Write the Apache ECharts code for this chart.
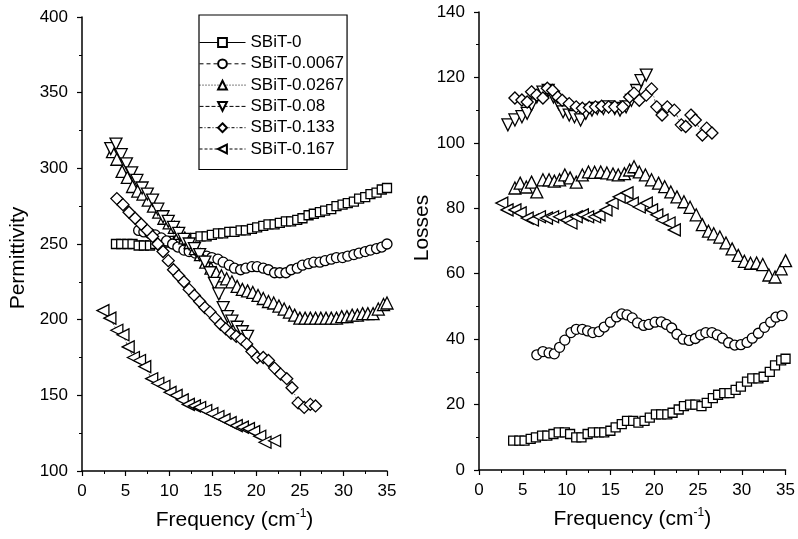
<!DOCTYPE html>
<html>
<head>
<meta charset="utf-8">
<script src="https://cdn.jsdelivr.net/npm/echarts@6/dist/echarts.min.js"></script>
<style>
  html, body { margin: 0; padding: 0; background: #fff; }
  #chart { width: 798px; height: 539px; }
</style>
</head>
<body>
<div id="chart"></div>
<script>
// series names (legend order)
const seriesNames = ['SBiT-0', 'SBiT-0.0067', 'SBiT-0.0267', 'SBiT-0.08', 'SBiT-0.133', 'SBiT-0.167']

// tick values
const freqTicks = [0, 5, 10, 15, 20, 25, 30, 35]
const permTicks = [100, 150, 200, 250, 300, 350, 400]
const lossTicks = [0, 20, 40, 60, 80, 100, 120, 140]

// permittivity vs frequency, [freq, value]
const permS0 = [[3.9,250],[4.5,250],[5.2,250],[5.8,250],[6.5,249],[7.1,249],[7.8,249],[8.4,250],[9.1,251],[9.7,251],[10.4,252],[11.0,252],[11.7,253],[12.3,253],[13.0,254],[13.6,255],[14.3,255],[14.9,256],[15.6,257],[16.2,257],[16.9,258],[17.5,258],[18.2,259],[18.8,259],[19.5,260],[20.1,261],[20.8,262],[21.4,263],[22.1,263],[22.7,264],[23.4,265],[24.0,265],[24.7,266],[25.3,267],[26.0,269],[26.6,270],[27.3,271],[27.9,272],[28.6,273],[29.2,275],[29.9,276],[30.5,277],[31.2,278],[31.8,280],[32.5,281],[33.1,283],[33.8,284],[34.4,286],[35.0,287]]
const permS0067 = [[6.5,259],[7.1,258],[7.8,257],[8.4,256],[9.1,254],[9.7,252],[10.4,250],[11.0,248],[11.7,246],[12.3,245],[13.0,244],[13.6,243],[14.3,242],[14.9,241],[15.6,240],[16.2,238],[16.9,236],[17.5,234],[18.2,233],[18.8,234],[19.5,235],[20.1,235],[20.8,234],[21.4,233],[22.1,231],[22.7,231],[23.4,231],[24.0,233],[24.7,234],[25.3,236],[26.0,237],[26.6,238],[27.3,238],[27.9,239],[28.6,240],[29.2,241],[29.9,241],[30.5,242],[31.2,243],[31.8,244],[32.5,245],[33.1,246],[33.8,247],[34.4,248],[35.0,250]]
const permS0267 = [[3.5,311],[4.0,306],[4.6,298],[5.2,294],[5.8,288],[6.4,285],[7.0,283],[7.6,279],[8.2,275],[8.8,271],[9.4,267],[10.0,264],[10.6,261],[11.2,257],[11.8,254],[12.4,251],[13.0,247],[13.6,243],[14.2,238],[14.8,234],[15.4,231],[16.0,229],[16.6,227],[17.2,225],[17.8,222],[18.4,220],[19.0,219],[19.6,218],[20.2,216],[20.8,214],[21.4,212],[22.0,211],[22.6,209],[23.2,207],[23.8,205],[24.4,203],[25.0,201],[25.6,201],[26.2,201],[26.8,201],[27.4,201],[28.0,201],[28.6,201],[29.2,201],[29.8,202],[30.4,202],[31.0,203],[31.6,203],[32.2,204],[32.8,204],[33.4,204],[34.0,207],[34.6,210],[35.0,211]]
const permS008 = [[3.3,313],[3.9,316],[4.5,309],[5.1,303],[5.7,297],[6.3,292],[6.9,287],[7.5,283],[8.1,279],[8.7,273],[9.3,268],[9.9,265],[10.5,261],[11.1,257],[11.7,253],[12.3,250],[12.9,247],[13.5,243],[14.1,238],[14.7,231],[15.2,224],[15.7,217],[16.2,208],[16.7,202],[17.2,199],[17.8,195],[18.4,192],[19.0,189]]
const permS0133 = [[4.0,280],[4.7,276],[5.4,271],[6.1,267],[6.8,263],[7.5,259],[8.1,255],[8.7,250],[9.3,245],[9.9,239],[10.5,233],[11.1,229],[11.7,225],[12.3,220],[12.9,216],[13.5,212],[14.1,208],[14.7,205],[15.3,201],[15.9,197],[16.5,194],[17.1,191],[17.7,189],[18.3,187],[18.9,184],[19.5,179],[20.1,175],[20.8,175],[21.4,173],[22.1,168],[22.8,164],[23.5,161],[24.1,155],[24.8,145],[25.5,142],[26.2,144],[26.8,143]]
const permS0167 = [[2.4,206],[3.2,201],[4.0,193],[4.7,190],[5.3,182],[5.9,175],[6.6,173],[7.2,169],[8.0,161],[8.7,158],[9.4,156],[10.1,152],[10.8,150],[11.5,147],[12.2,144],[12.9,143],[13.5,142],[14.2,140],[14.9,138],[15.6,136],[16.3,134],[17.0,132],[17.7,130],[18.4,129],[19.1,128],[19.7,126],[20.4,123],[21.0,119],[22.1,120]]

// losses vs frequency, [freq, value]
const lossS0 = [[3.9,9],[4.6,9],[5.2,9],[5.9,9.5],[6.5,10],[7.2,10.5],[7.8,10.5],[8.5,11],[9.1,11.5],[9.8,11.5],[10.4,11],[11.1,10],[11.7,10],[12.4,11],[13.0,11.5],[13.7,11.5],[14.3,11.5],[15.0,12],[15.6,13],[16.3,14],[16.9,15],[17.6,15],[18.2,14.5],[18.9,15],[19.5,16],[20.2,17],[20.8,17],[21.5,17],[22.1,17.5],[22.8,18.5],[23.4,19.5],[24.1,20],[24.7,20],[25.4,19.5],[26.0,20.5],[26.7,22],[27.3,23],[28.0,23.5],[28.6,23.5],[29.3,24.5],[29.9,25.5],[30.6,27],[31.2,28],[31.9,28],[32.5,28.5],[33.2,30],[33.8,32],[34.5,33.5],[35.0,34]]
const lossS0067 = [[6.6,35.2],[7.3,36.2],[8.0,35.8],[8.6,35.5],[9.2,37.5],[9.8,39.7],[10.5,42],[11.1,43],[11.8,43],[12.4,42.5],[13.0,42],[13.7,42.3],[14.3,43.7],[15.0,45.2],[15.7,46.8],[16.3,47.7],[16.9,47.4],[17.5,46.5],[18.1,45],[18.8,44.2],[19.4,44.5],[20.1,45.2],[20.8,45.3],[21.4,44.5],[22.0,43.4],[22.6,41.5],[23.3,40],[24.0,39.6],[24.7,40.2],[25.3,41.3],[25.9,42],[26.6,42],[27.2,41.3],[27.8,40.3],[28.5,38.9],[29.2,38.2],[29.9,38.3],[30.6,39],[31.2,40.3],[31.9,41.8],[32.6,43.6],[33.3,45.2],[33.9,46.7],[34.6,47.2]]
const lossS0267 = [[4.1,86.2],[4.7,87.7],[5.4,86.5],[6.0,88],[6.6,85],[7.3,88.7],[8.0,88.7],[8.6,88.3],[9.2,88.7],[9.8,90.2],[10.4,89.3],[11.1,88],[11.8,90.2],[12.5,91.1],[13.2,91],[13.9,91.1],[14.6,90.8],[15.3,90.5],[15.9,90.2],[16.6,90.6],[17.2,91.7],[17.7,92.7],[18.3,91.1],[19.0,90.2],[19.7,88.7],[20.5,87.7],[21.2,86.6],[21.9,85],[22.6,83.5],[23.4,82],[24.1,80.3],[24.8,78],[25.5,75],[26.2,73],[26.8,72.2],[27.5,71.2],[28.2,69.4],[28.9,67.6],[29.6,65.6],[30.3,63.8],[31.0,63.2],[31.7,63.3],[32.4,62.8],[33.1,59.6],[33.8,59],[34.5,61.5],[35.0,64]]
const lossS008 = [[3.3,105.5],[4.1,107],[4.9,108],[5.5,109],[6.0,111.6],[6.6,114],[7.3,115.5],[7.9,116],[8.5,114],[9.1,112],[9.6,109.5],[10.3,108.5],[10.9,108],[11.6,107],[12.2,109],[12.9,110],[13.5,110.5],[14.2,110.5],[14.8,111],[15.5,110.5],[16.1,110],[16.8,111],[17.4,113],[18.0,116],[18.5,119],[19.1,120.7]]
const lossS0133 = [[4.1,113.7],[4.9,113.1],[5.5,112.5],[6.0,115.6],[6.6,114.6],[7.3,113.7],[7.8,116.7],[8.4,116],[9.0,114],[9.5,113],[10.3,112],[11.1,111],[11.8,110.6],[12.6,110.8],[13.3,111],[14.0,111.2],[14.8,111],[15.5,111],[16.4,111],[17.2,114],[17.7,115.2],[18.3,113],[19.1,114.6],[19.7,116.5],[20.3,111],[20.9,108.5],[21.5,111],[22.3,110],[23.1,105.5],[23.6,105],[24.2,108.5],[24.7,107],[25.5,102.4],[26.0,104.5],[26.6,103]]
const lossS0167 = [[2.6,81.6],[3.2,79.5],[4.1,79.5],[4.7,78.6],[5.5,77],[6.1,76.4],[6.9,77.4],[7.7,77],[8.4,77.4],[9.2,77.4],[10.0,76.4],[10.5,75.5],[11.1,77.4],[11.8,78],[12.4,77.4],[13.2,77.4],[13.7,78],[14.5,79.5],[15.2,81.6],[16.0,83.5],[16.9,84.7],[17.5,81.6],[18.3,80.4],[19.1,81.6],[19.7,79.5],[20.3,78],[20.9,76.4],[21.7,75.5],[22.3,73.4]]

const permData = [permS0, permS0067, permS0267, permS008, permS0133, permS0167]
const lossData = [lossS0, lossS0067, lossS0267, lossS008, lossS0133, lossS0167]

// marker / line look per series
const markerStyles = [
  { symbol: 'rect', size: 9, rotate: 0, dash: 'solid' },
  { symbol: 'circle', size: 10, rotate: 0, dash: [4, 3] },
  { symbol: 'triangle', size: 12, rotate: 0, dash: [1, 2] },
  { symbol: 'triangle', size: 12, rotate: 180, dash: [4, 2] },
  { symbol: 'diamond', size: 12, rotate: 0, dash: [3, 2, 1, 2] },
  { symbol: 'triangle', size: 12, rotate: 90, dash: [3, 2] }
]

const FONT = 'Liberation Sans, Arial, Helvetica, sans-serif'

const makeSeries = (data, idx, gridIdx) => {
  const st = markerStyles[idx]
  return {
    name: seriesNames[idx],
    type: 'line',
    xAxisIndex: gridIdx,
    yAxisIndex: gridIdx,
    data: data,
    symbol: st.symbol,
    symbolSize: st.size,
    symbolRotate: st.rotate,
    showAllSymbol: true,
    animation: false,
    lineStyle: { color: '#000', width: 0.7, type: st.dash },
    itemStyle: { color: '#fff', borderColor: '#000', borderWidth: 1.3 },
    emphasis: { disabled: true }
  }
}

const freqAxis = (gridIdx) => ({
  type: 'value',
  gridIndex: gridIdx,
  min: 0,
  max: 35,
  interval: 5,
  name: 'Frequency (cm{sup|-1})',
  nameLocation: 'middle',
  nameGap: 37,
  nameTextStyle: {
    fontFamily: FONT,
    fontSize: 21,
    color: '#000',
    rich: { sup: { fontSize: 12, verticalAlign: 'top', padding: [0, 0, 13, 0], fontFamily: FONT, color: '#000' } }
  },
  axisLine: { show: true, lineStyle: { color: '#000', width: 1.5 } },
  axisTick: { show: true, length: 5, lineStyle: { color: '#000', width: 1.2 } },
  minorTick: { show: true, splitNumber: 2, length: 3, lineStyle: { color: '#000', width: 1 } },
  axisLabel: { fontFamily: FONT, fontSize: 17, color: '#000', margin: 12,
    formatter: (v) => (freqTicks.includes(v) ? String(v) : '') },
  splitLine: { show: false }
})

const chart = echarts.init(document.getElementById('chart'), null, { renderer: 'canvas' })

const option = {
  backgroundColor: '#fff',
  animation: false,
  grid: [
    { left: 82, top: 17, width: 305, height: 454 },
    { left: 479, top: 12, width: 308, height: 458 }
  ],
  legend: {
    orient: 'vertical',
    left: 199,
    top: 15,
    data: seriesNames,
    itemWidth: 46,
    itemHeight: 11,
    itemGap: 4.3,
    padding: [19, 3, 12, 0],
    borderColor: '#000',
    borderWidth: 1.2,
    lineStyle: { width: 1 },
    textStyle: { fontFamily: FONT, fontSize: 17, lineHeight: 17, color: '#000' },
    selectedMode: false
  },
  xAxis: [freqAxis(0), freqAxis(1)],
  yAxis: [
    {
      type: 'value',
      gridIndex: 0,
      min: 100,
      max: 400,
      interval: 50,
      name: 'Permittivity',
      nameLocation: 'middle',
      nameGap: 53,
      nameTextStyle: { fontFamily: FONT, fontSize: 21, color: '#000', padding: [0, 28, 0, 0] },
      axisLine: { show: true, lineStyle: { color: '#000', width: 1.5 } },
      axisTick: { show: true, length: 5, lineStyle: { color: '#000', width: 1.2 } },
      minorTick: { show: true, splitNumber: 2, length: 3, lineStyle: { color: '#000', width: 1 } },
      axisLabel: { fontFamily: FONT, fontSize: 17, color: '#000', margin: 14,
        formatter: (v) => (permTicks.includes(v) ? String(v) : '') },
      splitLine: { show: false }
    },
    {
      type: 'value',
      gridIndex: 1,
      min: 0,
      max: 140,
      interval: 20,
      name: 'Losses',
      nameLocation: 'middle',
      nameGap: 46,
      nameTextStyle: { fontFamily: FONT, fontSize: 21, color: '#000', padding: [0, 0, 0, 26] },
      axisLine: { show: true, lineStyle: { color: '#000', width: 1.5 } },
      axisTick: { show: true, length: 5, lineStyle: { color: '#000', width: 1.2 } },
      minorTick: { show: true, splitNumber: 2, length: 3, lineStyle: { color: '#000', width: 1 } },
      axisLabel: { fontFamily: FONT, fontSize: 17, color: '#000', margin: 14,
        formatter: (v) => (lossTicks.includes(v) ? String(v) : '') },
      splitLine: { show: false }
    }
  ],
  series: [
    ...permData.map((d, i) => makeSeries(d, i, 0)),
    ...lossData.map((d, i) => makeSeries(d, i, 1))
  ]
}

chart.setOption(option)
</script>
</body>
</html>
